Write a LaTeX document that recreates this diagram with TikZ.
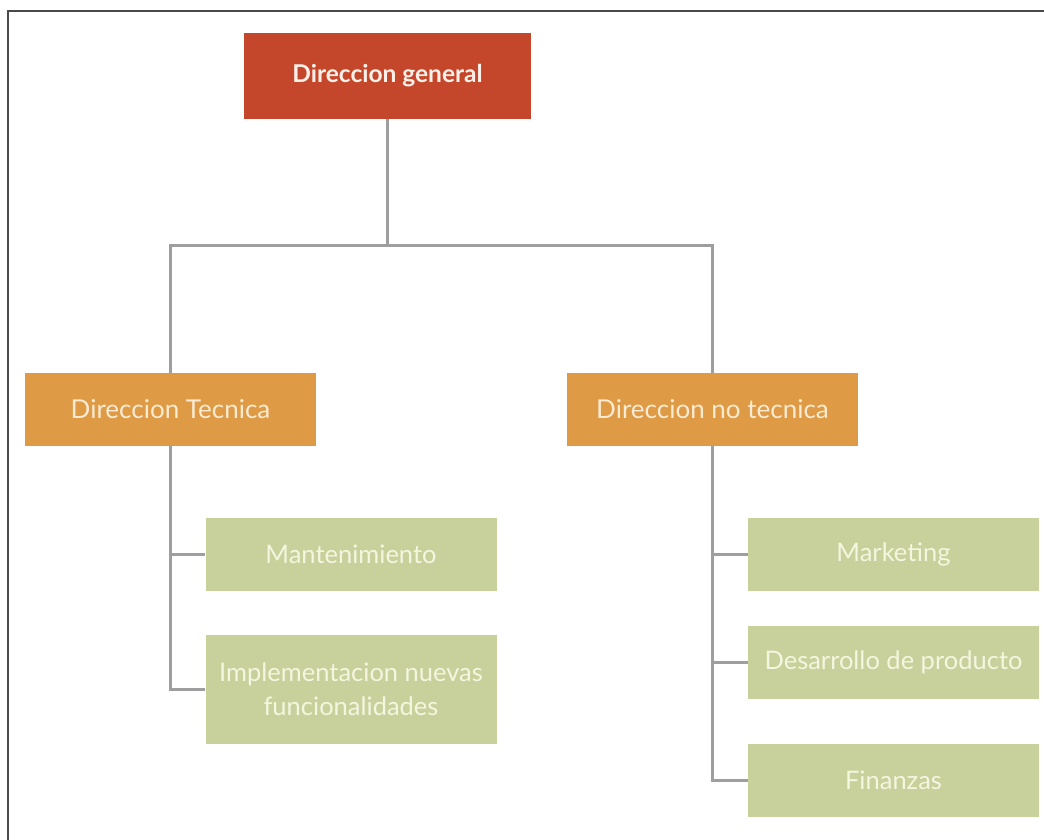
\documentclass[tikz,border=0pt]{standalone}
\usepackage{fontspec}
\setmainfont{Lato}
\definecolor{redbox}{HTML}{C5472B}
\definecolor{orangebox}{HTML}{DE9A45}
\definecolor{greenbox}{HTML}{C8D09B}
\definecolor{orangetext}{HTML}{FBEBD2}
\definecolor{greentext}{HTML}{F4F6DF}
\definecolor{toptext}{HTML}{FCF0E8}
\definecolor{linkcol}{HTML}{9E9E9E}
\definecolor{framecol}{HTML}{4A4A4A}
\tikzset{
  box/.style={rectangle, inner sep=0pt, align=center, anchor=center},
  topbox/.style={box, fill=redbox, text=toptext, minimum width=287pt, minimum height=86pt, font=\fontsize{24.5}{29}\selectfont\bfseries},
  midbox/.style={box, fill=orangebox, text=orangetext, minimum width=291pt, minimum height=73pt, font=\fontsize{26}{31}\selectfont},
  leafbox/.style={box, fill=greenbox, text=greentext, minimum width=291pt, minimum height=73pt, font=\fontsize{25.5}{34}\selectfont},
  link/.style={draw=linkcol, line width=3pt, line join=miter}
}
\begin{document}
\begin{tikzpicture}[x=1pt, y=-1pt]
\useasboundingbox (0,0) rectangle (1044,839);
\fill[white] (0,0) rectangle (1044,839);
\draw[framecol, line width=2.5pt] (8,845) -- (8,11) -- (1050,11);

\node[topbox] (top) at (387.5,76) {Direccion general};
\node[midbox] (dt) at (170.5,409.5) {Direccion Tecnica};
\node[midbox] (dnt) at (712.5,409.5) {Direccion no tecnica};

\node[leafbox] (mant) at (351,554) {Mantenimiento};
\node[leafbox, minimum height=109pt] (impl) at (351,689) {Implementacion nuevas\\funcionalidades};

\node[leafbox] (mkt) at (893.5,554) {Marketing};
\node[leafbox] (des) at (893.5,662.5) {Desarrollo de producto};
\node[leafbox] (fin) at (893.5,780) {Finanzas};

\coordinate (hub) at (387.5,245);

\draw[link] (top.south) -- (hub);
\draw[link] (dt.north) |- (hub) -| (dnt.north);

\draw[link] (dt.south) |- (mant.west);
\draw[link] (dt.south) |- (impl.west);

\draw[link] (dnt.south) |- (mkt.west);
\draw[link] (dnt.south) |- (des.west);
\draw[link] (dnt.south) |- (fin.west);
\end{tikzpicture}
\end{document}
